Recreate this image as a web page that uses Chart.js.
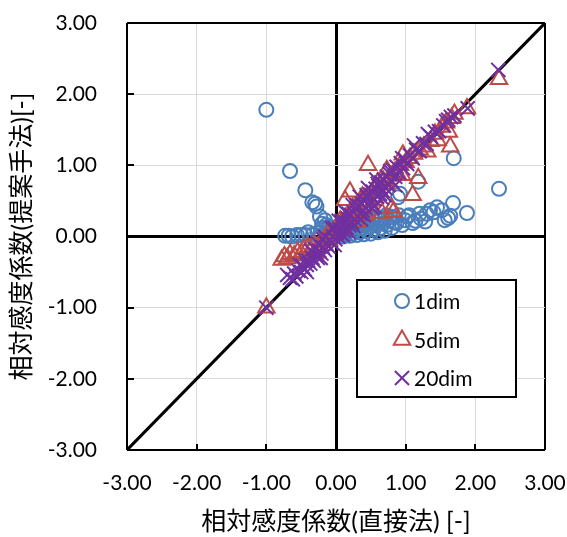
<!DOCTYPE html>
<html>
<head>
<meta charset="utf-8">
<script src="https://cdn.jsdelivr.net/npm/chart.js@4/dist/chart.umd.min.js"></script>
<style>
  html, body { margin: 0; padding: 0; background: #fff; }
  #wrap { width: 567px; height: 537px; }
</style>
</head>
<body>
<div id="wrap"><canvas id="c" width="567" height="537"></canvas></div>
<script>
// Relative sensitivity coefficients: direct method (x) vs proposed method (y)
const seriesNames = ['1dim', '5dim', '20dim'];
const axisTicks = [-3, -2, -1, 0, 1, 2, 3];
const refLine = [-3, 3];

const dim1X = [-1.00, -0.66, -0.44, -0.34, -0.30, -0.28, -0.23, -0.16, -0.19, -0.09,
  -0.73, -0.68, -0.63, -0.56, -0.50, -0.44, -0.40, -0.33, -0.27, -0.22, -0.15, -0.10, -0.05,
  0.00, 0.05, 0.08, 0.10, 0.14, 0.18, 0.20, 0.24, 0.28, 0.30, 0.34, 0.38, 0.40, 0.44, 0.48,
  0.50, 0.54, 0.56, 0.58, 0.60, 0.64, 0.68, 0.70, 0.73, 0.76, 0.80, 0.84, 0.87, 0.89, 0.92,
  0.95, 0.99, 1.02, 1.10, 1.14, 1.18, 1.22, 1.28, 1.35, 1.45, 1.52, 1.56, 1.61, 1.64, 1.68,
  1.69, 1.88, 2.34, 0.10, 0.20, 0.30, 0.40,
  0.12, 0.22, 0.32, 0.36, 0.46, 0.52, 0.62, 0.66, 0.78, 0.82, 0.90, 1.05, 1.20, 1.30, 1.40,
  -0.12, -0.04, 0.02, 0.26, 0.42, 0.72, -0.20, -0.14, -0.06, 0.06, 0.16];
const dim1Y = [1.78, 0.92, 0.65, 0.48, 0.46, 0.42, 0.28, 0.23, 0.12, 0.14,
  0.01, 0.01, 0.00, 0.02, 0.02, 0.02, 0.06, 0.03, 0.05, 0.06, 0.04, 0.03, 0.01,
  0.00, 0.02, 0.06, 0.00, 0.03, 0.08, 0.01, 0.04, 0.10, 0.02, 0.06, 0.12, 0.03, 0.08, 0.14,
  0.04, 0.10, 0.27, 0.16, 0.06, 0.12, 0.18, 0.08, 0.16, 0.22, 0.12, 0.20, 0.19, 0.55, 0.60,
  0.16, 0.23, 0.28, 0.19, 0.22, 0.77, 0.25, 0.21, 0.37, 0.41, 0.37, 0.23, 0.26, 0.29, 0.47,
  1.10, 0.33, 0.67, 0.10, 0.18, 0.26, 0.34,
  0.14, 0.16, 0.18, 0.20, 0.22, 0.24, 0.24, 0.26, 0.28, 0.27, 0.30, 0.30, 0.32, 0.32, 0.34,
  0.10, 0.08, 0.10, 0.14, 0.18, 0.30, 0.18, 0.16, 0.12, 0.10, 0.12];

const dim5X = [-1.00, -0.78, -0.74, -0.70, -0.66, -0.60, -0.55, -0.50, -0.46, -0.40, -0.36,
  -0.32, -0.27, -0.22, -0.18, -0.14, -0.10, -0.06, -0.02, 0.02, 0.05, 0.08, 0.10, 0.13, 0.14,
  0.18, 0.20, 0.22, 0.25, 0.28, 0.30, 0.33, 0.36, 0.40, 0.42, 0.44, 0.46, 0.48, 0.52, 0.55,
  0.58, 0.62, 0.66, 0.68, 0.72, 0.73, 0.78, 0.80, 0.82, 0.84, 0.88, 0.92, 0.95, 0.96, 1.00,
  1.06, 1.10, 1.12, 1.18, 1.20, 1.26, 1.31, 1.36, 1.42, 1.46, 1.52, 1.58, 1.62, 1.64, 1.66,
  1.70, 1.88, 2.34, -0.30, -0.12, 0.06, 0.24, 0.38, 0.60];
const dim5Y = [-1.00, -0.33, -0.28, -0.31, -0.25, -0.27, -0.22, -0.24, -0.18, -0.15, -0.20,
  -0.12, -0.16, -0.08, -0.12, -0.04, -0.06, 0.02, 0.05, 0.12, 0.08, 0.20, 0.14, 0.51, 0.26,
  0.22, 0.63, 0.34, 0.28, 0.40, 0.20, 0.36, 0.48, 0.42, 0.30, 0.55, 1.00, 0.50, 0.62, 0.55,
  0.70, 0.64, 0.33, 0.78, 0.74, 0.93, 0.85, 0.40, 0.34, 0.90, 0.88, 1.00, 0.86, 1.15, 1.04,
  1.10, 0.58, 1.16, 0.82, 1.22, 1.26, 1.19, 1.34, 1.44, 1.35, 1.54, 1.60, 1.47, 1.26, 1.66,
  1.72, 1.80, 2.21, -0.24, 0.04, 0.22, 0.40, 0.56, 0.76];

const dim20X = [-1.00, -0.70, -0.66, -0.62, -0.60, -0.57, -0.54, -0.50, -0.48, -0.45, -0.42,
  -0.40, -0.37, -0.34, -0.32, -0.29, -0.26, -0.24, -0.21, -0.19, -0.16, -0.14, -0.11, -0.09,
  -0.06, -0.04, -0.01, 0.01, 0.03, 0.05, 0.07, 0.09, 0.11, 0.13, 0.15, 0.17, 0.19, 0.21, 0.23,
  0.25, 0.27, 0.29, 0.31, 0.33, 0.35, 0.37, 0.39, 0.41, 0.43, 0.45, 0.47, 0.49, 0.51, 0.53,
  0.55, 0.57, 0.59, 0.61, 0.63, 0.65, 0.67, 0.69, 0.71, 0.73, 0.75, 0.77, 0.80, 0.82, 0.85,
  0.87, 0.90, 0.93, 0.96, 0.99, 1.02, 1.06, 1.10, 1.15, 1.20, 1.25, 1.30, 1.36, 1.42, 1.48,
  1.54, 1.58, 1.61, 1.65, 1.70, 1.89, 2.33, 0.40, 0.55, 0.70, 0.85, 0.25, 0.10,
  -0.52, -0.44, -0.30, -0.18, -0.02, 0.08, 0.18, 0.30, 0.44, 0.60, 0.78, 0.95, 1.12, 1.32,
  -0.36, -0.26, -0.16, -0.06, 0.04, 0.14, 0.24, 0.34, 0.46, 0.58, -0.42, -0.22, -0.02, 0.18,
  0.36, 0.52, 0.66];
const dim20Y = [-1.00, -0.54, -0.58, -0.60, -0.52, -0.56, -0.48, -0.50, -0.42, -0.46, -0.40,
  -0.34, -0.38, -0.30, -0.34, -0.26, -0.30, -0.20, -0.24, -0.15, -0.19, -0.10, -0.14, -0.05,
  -0.09, 0.00, -0.04, 0.05, 0.00, 0.10, 0.04, 0.15, 0.08, 0.20, 0.12, 0.25, 0.16, 0.30, 0.20,
  0.34, 0.24, 0.38, 0.28, 0.42, 0.32, 0.46, 0.36, 0.50, 0.40, 0.55, 0.44, 0.59, 0.48, 0.63,
  0.52, 0.67, 0.56, 0.71, 0.60, 0.76, 0.64, 0.80, 0.68, 0.84, 0.72, 0.88, 0.78, 0.93, 0.84,
  0.98, 0.90, 1.03, 0.96, 1.08, 1.02, 1.14, 1.10, 1.22, 1.20, 1.31, 1.30, 1.40, 1.47, 1.48,
  1.56, 1.62, 1.64, 1.68, 1.70, 1.80, 2.34, 0.30, 0.42, 0.58, 0.72, 0.15, 0.02,
  -0.40, -0.34, -0.18, -0.04, 0.12, 0.22, 0.32, 0.44, 0.58, 0.74, 0.92, 1.10, 1.28, 1.44,
  -0.20, -0.10, 0.00, 0.12, 0.22, 0.34, 0.44, 0.56, 0.68, 0.80, -0.50, -0.30, -0.12, 0.06,
  0.24, 0.40, 0.54];

const colors = { dim1: '#4A7EBB', dim5: '#BE4B48', dim20: '#7030A0' };
const latinFont = "Lato, 'Noto Sans CJK JP', sans-serif";

function toPoints(xs, ys) {
  return xs.map((x, i) => ({ x: x, y: ys[i] }));
}

// Legend drawn inside the plot as a framed box
const boxedLegend = {
  id: 'boxedLegend',
  afterDraw(chart) {
    const ctx = chart.ctx;
    const H = Chart.helpers;
    const bx = 357, by = 280, bw = 159, bh = 117;
    ctx.save();
    ctx.fillStyle = '#fff';
    ctx.fillRect(bx, by, bw, bh);
    ctx.lineWidth = 2;
    ctx.strokeStyle = '#000';
    ctx.strokeRect(bx, by, bw, bh);
    const rows = [301, 340, 378];
    chart.data.datasets.filter(d => d.inLegend).forEach((ds, i) => {
      ctx.strokeStyle = ds.borderColor;
      ctx.fillStyle = 'rgba(0,0,0,0)';
      ctx.lineWidth = ds.borderWidth;
      H.drawPoint(ctx, { pointStyle: ds.pointStyle, radius: ds.pointRadius, rotation: 0, borderWidth: ds.borderWidth }, 402, rows[i]);
      ctx.fillStyle = '#000';
      ctx.font = '21px ' + latinFont;
      ctx.textAlign = 'left';
      ctx.textBaseline = 'middle';
      ctx.fillText(ds.label, 414, rows[i] + 1);
    });
    ctx.restore();
  }
};

// Short tick marks pointing into the plot area
const innerTicks = {
  id: 'innerTicks',
  afterDatasetsDraw(chart) {
    const { ctx, chartArea: a, scales } = chart;
    ctx.save();
    ctx.strokeStyle = '#000';
    ctx.lineWidth = 2;
    ctx.beginPath();
    axisTicks.forEach(v => {
      const px = Math.round(scales.x.getPixelForValue(v));
      ctx.moveTo(px, a.bottom);
      ctx.lineTo(px, a.bottom - 6);
      const py = Math.round(scales.y.getPixelForValue(v));
      ctx.moveTo(a.left, py);
      ctx.lineTo(a.left + 7, py);
    });
    ctx.stroke();
    ctx.restore();
  }
};

function gridColor(c) {
  const v = c.tick.value;
  return (v === 0 || v === -3 || v === 3) ? '#000' : '#D9D9D9';
}
function gridWidth(c) {
  const v = c.tick.value;
  if (v === 0) return 3;
  if (v === -3 || v === 3) return 2;
  return 1;
}
function fixBox(s, w, h) {
  if (w !== null) s.width = w;
  if (h !== null) s.height = h;
  s.paddingTop = 0; s.paddingBottom = 0; s.paddingLeft = 0; s.paddingRight = 0;
}

new Chart(document.getElementById('c'), {
  type: 'scatter',
  data: {
    datasets: [
      {
        type: 'line', label: 'y=x', data: toPoints(refLine, refLine),
        borderColor: '#000', borderWidth: 3, pointRadius: 0, order: 3, inLegend: false
      },
      {
        label: seriesNames[0], data: toPoints(dim1X, dim1Y), pointStyle: 'circle', pointRadius: 7,
        borderColor: colors.dim1, backgroundColor: 'rgba(0,0,0,0)', borderWidth: 2, order: 2, inLegend: true
      },
      {
        label: seriesNames[1], data: toPoints(dim5X, dim5Y), pointStyle: 'triangle', pointRadius: 9.5,
        borderColor: colors.dim5, backgroundColor: 'rgba(0,0,0,0)', borderWidth: 2, order: 1, inLegend: true
      },
      {
        label: seriesNames[2], data: toPoints(dim20X, dim20Y), pointStyle: 'crossRot', pointRadius: 10,
        borderColor: colors.dim20, backgroundColor: 'rgba(0,0,0,0)', borderWidth: 2, order: 0, inLegend: true
      }
    ]
  },
  options: {
    responsive: false,
    animation: false,
    devicePixelRatio: 1,
    layout: { padding: { top: 23, right: 22, left: 0, bottom: 0 } },
    plugins: { legend: { display: false }, tooltip: { enabled: false } },
    scales: {
      x: {
        type: 'linear', min: -3, max: 3,
        afterFit(s) { fixBox(s, null, 87); },
        afterBuildTicks(s) { s.ticks = axisTicks.map(v => ({ value: v })); },
        ticks: {
          callback: v => v.toFixed(2), color: '#000', padding: 21, maxRotation: 0,
          font: { family: latinFont, size: 21 }
        },
        grid: { color: gridColor, lineWidth: gridWidth, drawTicks: false },
        border: { display: false },
        title: {
          display: true, text: '相対感度係数(直接法) [-]', color: '#000',
          font: { family: latinFont, size: 25 }, padding: { top: 0, bottom: 0 }
        }
      },
      y: {
        type: 'linear', min: -3, max: 3,
        afterFit(s) { fixBox(s, 127, null); },
        afterBuildTicks(s) { s.ticks = axisTicks.map(v => ({ value: v })); },
        ticks: {
          callback: v => v.toFixed(2), color: '#000', padding: 30,
          font: { family: latinFont, size: 21 }
        },
        grid: { color: gridColor, lineWidth: gridWidth, drawTicks: false },
        border: { display: false },
        title: {
          display: true, text: '相対感度係数(提案手法)[-]', color: '#000',
          font: { family: latinFont, size: 25 }, padding: { top: 7, bottom: 0 }
        }
      }
    }
  },
  plugins: [innerTicks, boxedLegend]
});
</script>
</body>
</html>
